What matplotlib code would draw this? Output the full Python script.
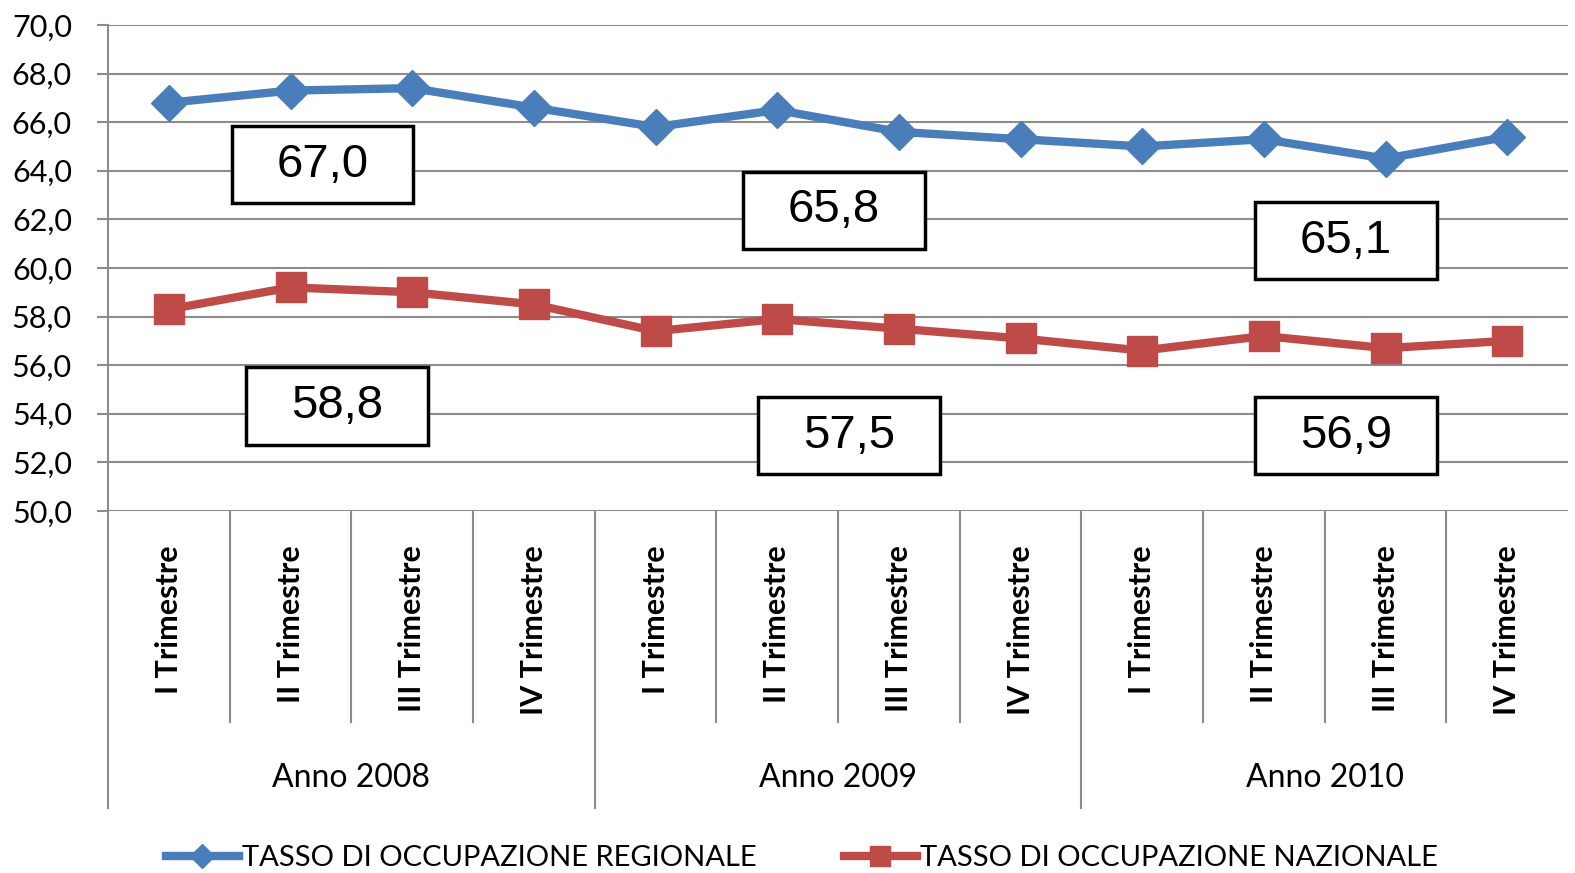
import matplotlib
matplotlib.use("Agg")
import matplotlib.pyplot as plt
from matplotlib.patches import Rectangle
from matplotlib.lines import Line2D
from matplotlib.transforms import blended_transform_factory
from matplotlib.ticker import FuncFormatter

# Dati
trimestri = ["I Trimestre", "II Trimestre", "III Trimestre", "IV Trimestre"] * 3
anni = ["Anno 2008", "Anno 2009", "Anno 2010"]
regionale = [66.8, 67.3, 67.4, 66.6, 65.8, 66.5, 65.6, 65.3, 65.0, 65.3, 64.5, 65.4]
nazionale = [58.3, 59.2, 59.0, 58.5, 57.4, 57.9, 57.5, 57.1, 56.6, 57.2, 56.7, 57.0]
media_regionale = [67.0, 65.8, 65.1]
media_nazionale = [58.8, 57.5, 56.9]

BLU = "#4A7EBB"
ROSSO = "#BE4B48"
GRIGIO = "#8C8C8C"
FONT = ["Lato", "DejaVu Sans"]

fig = plt.figure(figsize=(15.75, 8.73), dpi=100)
ax = fig.add_axes([0.0686, 0.4147, 0.9270, 0.5567])

x = list(range(len(regionale)))
ax.plot(x, regionale, color=BLU, lw=6, marker="D", markersize=18, zorder=3)
ax.plot(x, nazionale, color=ROSSO, lw=6, marker="s", markersize=21, zorder=3)

ax.set_xlim(-0.5, 11.5)
ax.set_ylim(50, 70)
ax.set_yticks(range(50, 71, 2))
ax.yaxis.set_major_formatter(FuncFormatter(lambda v, p: f"{v:.1f}".replace(".", ",")))
ax.set_xticks([])
ax.grid(axis="y", color=GRIGIO, lw=1.5)
ax.set_axisbelow(True)
for s in ["top", "right", "bottom"]:
    ax.spines[s].set_visible(False)
ax.spines["left"].set_color(GRIGIO)
ax.spines["left"].set_linewidth(1.5)
ax.tick_params(axis="y", length=8, width=1.5, color=GRIGIO, pad=18, labelsize=22)
for lab in ax.get_yticklabels():
    lab.set_family(FONT)
ax.axhline(50, color=GRIGIO, lw=2, zorder=2)

# etichette asse x a due livelli
tr = blended_transform_factory(ax.transData, ax.transAxes)
for i, t in enumerate(trimestri):
    ax.text(i, -0.07, t, rotation=90, ha="center", va="top", transform=tr,
            fontsize=22, fontweight="bold", family=FONT, clip_on=False)
for k in range(12):
    bottom = -0.611 if k % 4 == 0 else -0.434
    ax.plot([k - 0.5, k - 0.5], [0, bottom], color=GRIGIO, lw=1.5,
            transform=tr, clip_on=False)
for j, a in enumerate(anni):
    ax.text(4 * j + 1.5, -0.55, a, ha="center", va="center", transform=tr,
            fontsize=23, family=FONT, clip_on=False)

# riquadri con le medie annue
box_x = [1.263, 5.467, 9.675]
box_y_reg = [64.24, 62.37, 61.13]
box_x_naz = [1.382, 5.59, 9.675]
box_y_naz = [54.32, 53.09, 53.09]
bw, bh = 1.49, 3.17
for xs, ys, vals in [(box_x, box_y_reg, media_regionale),
                     (box_x_naz, box_y_naz, media_nazionale)]:
    for cx, cy, v in zip(xs, ys, vals):
        ax.add_patch(Rectangle((cx - bw / 2, cy - bh / 2), bw, bh, fill=True,
                               facecolor="white", edgecolor="black", lw=2.5,
                               zorder=4))
        ax.text(cx, cy, f"{v:.1f}".replace(".", ","), ha="center", va="center",
                fontsize=34, family=["Liberation Sans", "DejaVu Sans"], zorder=5)

# legenda
handles = [
    Line2D([], [], color=BLU, lw=6, marker="D", markersize=12),
    Line2D([], [], color=ROSSO, lw=6, marker="s", markersize=14),
]
fig.legend(handles, ["TASSO DI OCCUPAZIONE REGIONALE", "TASSO DI OCCUPAZIONE NAZIONALE"],
           loc="center", bbox_to_anchor=(0.509, 0.017), ncol=2, frameon=False,
           prop={"family": FONT, "size": 21}, handlelength=2.5,
           handletextpad=0.1, columnspacing=3.0)

fig.savefig("out.png", dpi=100)
